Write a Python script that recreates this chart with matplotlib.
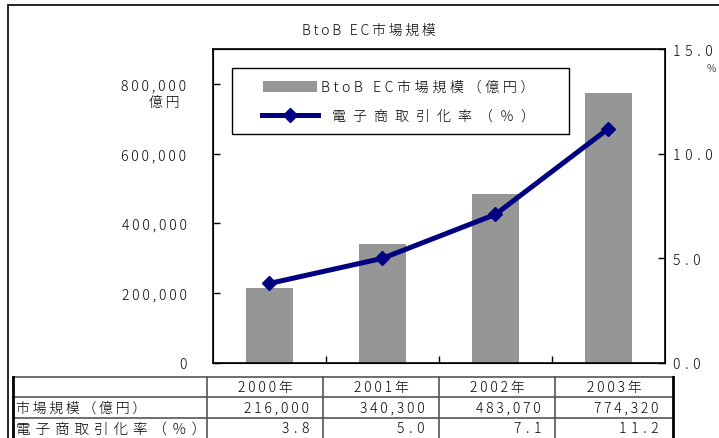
import matplotlib
matplotlib.use('Agg')
import matplotlib.pyplot as plt
from matplotlib.patches import Rectangle
from matplotlib.lines import Line2D
from matplotlib.ticker import FixedLocator, FuncFormatter

plt.rcParams['font.family'] = ['Noto Sans CJK JP', 'DejaVu Sans']
plt.rcParams['font.weight'] = 'light'

# BtoB EC market data
years = ['2000年', '2001年', '2002年', '2003年']
market_size = [216000, 340300, 483070, 774320]   # 億円
ec_rate = [3.8, 5.0, 7.1, 11.2]                  # %
row_labels = ['市場規模（億円）', '電子商取引化率（％）']

W, H = 719, 439
BAR_COLOR = '#969696'
LINE_COLOR = '#000080'

# spacing characters (widths 0.2em, 0.25em, 0.33em, 0.5em)
THIN, FOUR, THREE, EN = '\u2009', '\u2005', '\u2004', '\u2002'


def sp(s, gap=THIN):
    """Loosen character spacing by inserting narrow spaces."""
    return gap.join(s)


def fx(px):
    return px / W


def fy(py):
    return 1 - py / H


fig = plt.figure(figsize=(W / 100, H / 100), dpi=100)

# outer frame (only top/left edges fall inside the canvas)
fig.add_artist(Rectangle((fx(8), fy(460)), fx(760) - fx(8), fy(6) - fy(460),
                         transform=fig.transFigure, fill=False, ec='black', lw=1.2))

ax = fig.add_axes([fx(213), fy(364), fx(665) - fx(213), fy(50) - fy(364)])
x = list(range(len(years)))
ax.bar(x, market_size, width=0.42, color=BAR_COLOR, zorder=2)
ax.set_xlim(-0.5, len(years) - 0.5)
ax.set_ylim(0, 900000)
ax.yaxis.set_major_locator(FixedLocator([0, 200000, 400000, 600000, 800000]))
ax.yaxis.set_major_formatter(FuncFormatter(lambda v, p: sp(f'{v:,.0f}')))
ax.set_xticks([0.5, 1.5, 2.5])
ax.set_xticklabels([])
ax.tick_params(axis='x', direction='in', length=5, width=1)
ax.tick_params(axis='y', direction='in', length=5, width=1, pad=19, labelsize=10)
for s in ax.spines.values():
    s.set_linewidth(1.2)

ax2 = ax.twinx()
ax2.plot(x, ec_rate, color=LINE_COLOR, lw=3.6, marker='D', ms=7, zorder=3)
ax2.set_ylim(0, 15)
ax2.set_yticks([0, 5, 10, 15])
ax2.yaxis.set_major_formatter(FuncFormatter(lambda v, p: sp(f'{v:.1f}', THREE)))
ax2.tick_params(direction='in', length=5, width=1, pad=6, labelsize=10)

# title and axis units
fig.text(fx(369), fy(31), sp('BtoB EC市場規模'), ha='center', va='center', fontsize=10)
fig.text(fx(164), fy(103), sp('億円'), ha='center', va='center', fontsize=10)
fig.text(fx(711), fy(70), '%', ha='center', va='center', fontsize=7.5)

# legend box
fig.add_artist(Rectangle((fx(232), fy(135)), fx(569) - fx(232), fy(69) - fy(135),
                         transform=fig.transFigure, fc='white', ec='black', lw=1))
fig.add_artist(Rectangle((fx(263), fy(93)), fx(317) - fx(263), fy(82) - fy(93),
                         transform=fig.transFigure, fc=BAR_COLOR, ec='none'))
fig.text(fx(321), fy(88), sp('BtoB EC市場規模（億円）', FOUR),
         ha='left', va='center', fontsize=10.2)
fig.add_artist(Line2D([fx(262), fx(318)], [fy(116), fy(116)], transform=fig.transFigure,
                      color=LINE_COLOR, lw=3.6))
fig.add_artist(Line2D([fx(290)], [fy(116)], transform=fig.transFigure,
                      color=LINE_COLOR, marker='D', ms=7))
fig.text(fx(332), fy(117), sp('電子商取引化率（％）', EN),
         ha='left', va='center', fontsize=10.1)

# data table below the chart
col_edges = [13, 207, 323, 439, 555, 673]
row_edges = [378, 398, 419, 440]
for ry in row_edges[:-1]:
    fig.add_artist(Line2D([fx(col_edges[0]), fx(col_edges[-1])], [fy(ry), fy(ry)],
                          transform=fig.transFigure, color='#555555', lw=1.2))
for i, cx in enumerate(col_edges):
    edge = i in (0, len(col_edges) - 1)
    fig.add_artist(Line2D([fx(cx), fx(cx)], [fy(row_edges[0]), fy(row_edges[-1])],
                          transform=fig.transFigure,
                          color='black' if edge else '#555555', lw=2 if edge else 1.2))

row_mid = [(row_edges[i] + row_edges[i + 1]) / 2 for i in range(3)]
for j, yr in enumerate(years):
    cx = (col_edges[j + 1] + col_edges[j + 2]) / 2
    fig.text(fx(cx), fy(row_mid[0]), sp(yr), ha='center', va='center', fontsize=10)
    right = col_edges[j + 2] - 14
    fig.text(fx(right), fy(row_mid[1]), sp(f'{market_size[j]:,}'),
             ha='right', va='center', fontsize=10)
    fig.text(fx(right), fy(row_mid[2]), sp(f'{ec_rate[j]:.1f}', THREE),
             ha='right', va='center', fontsize=10)
fig.text(fx(16), fy(row_mid[1]), sp(row_labels[0]), ha='left', va='center', fontsize=10)
fig.text(fx(16), fy(row_mid[2]), sp(row_labels[1], THREE), ha='left', va='center', fontsize=10.5)

fig.savefig('out.png', dpi=100)
